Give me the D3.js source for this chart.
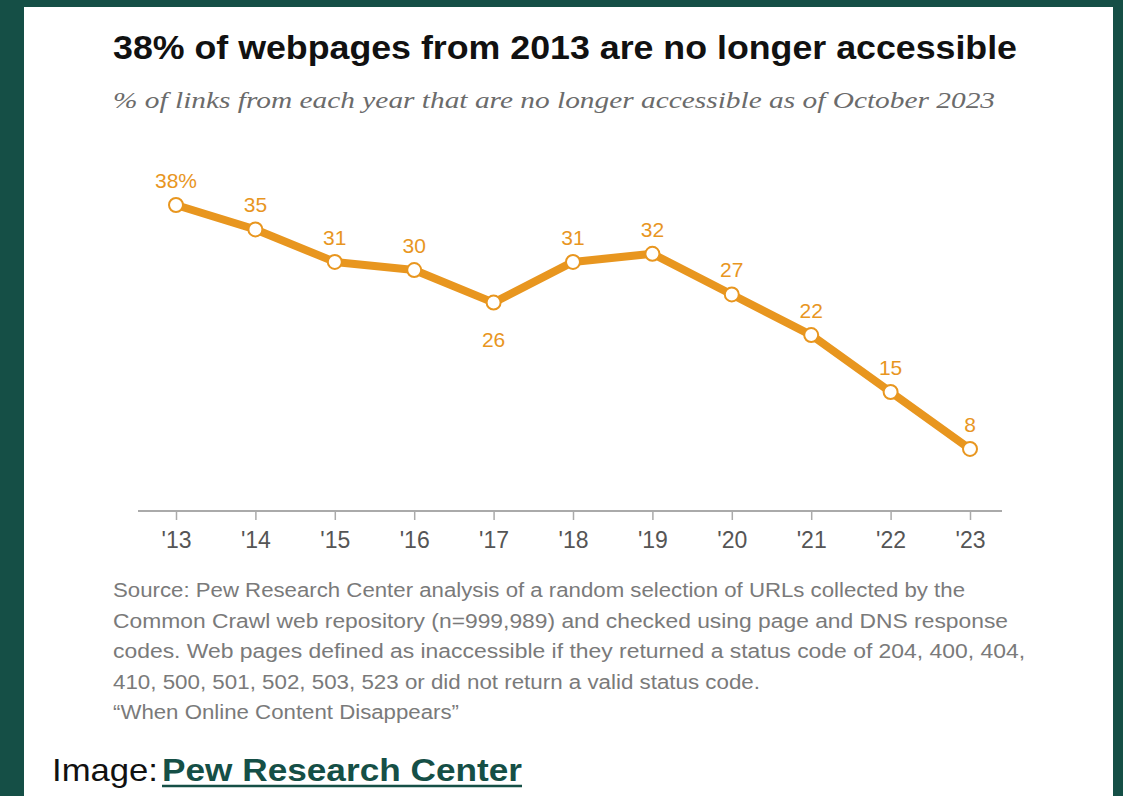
<!DOCTYPE html>
<html>
<head>
<meta charset="utf-8">
<title>Webpages no longer accessible</title>
<style>
  body { margin: 0; background: #154f46; }
  svg { display: block; }
  .title { font-family: "Liberation Sans Narrow", "Liberation Sans", Arial, sans-serif; font-weight: bold; fill: #111; }
  .sub { font-family: "Liberation Serif", "DejaVu Serif", serif; font-style: italic; fill: #6b6b6b; }
  .lab { font-family: "Liberation Sans", Arial, sans-serif; fill: #e8961f; }
  .tick text { font-family: "Liberation Sans Narrow", "Liberation Sans", Arial, sans-serif; fill: #555; }
  .note { font-family: "Liberation Sans Narrow", "Liberation Sans", Arial, sans-serif; fill: #7a7a7a; }
  .credit { font-family: "Liberation Sans", Arial, sans-serif; }
</style>
</head>
<body>
<script src="https://cdnjs.cloudflare.com/ajax/libs/d3/7.8.5/d3.min.js"></script>
<script>
// data
var years = ["'13", "'14", "'15", "'16", "'17", "'18", "'19", "'20", "'21", "'22", "'23"];
var values = [38, 35, 31, 30, 26, 31, 32, 27, 22, 15, 8];
var labels = ["38%", "35", "31", "30", "26", "31", "32", "27", "22", "15", "8"];
var below = [false, false, false, false, true, false, false, false, false, false, false];

var notes = [
  "Source: Pew Research Center analysis of a random selection of URLs collected by the",
  "Common Crawl web repository (n=999,989) and checked using page and DNS response",
  "codes. Web pages defined as inaccessible if they returned a status code of 204, 400, 404,",
  "410, 500, 501, 502, 503, 523 or did not return a valid status code.",
  "\u201CWhen Online Content Disappears\u201D"
];
var noteWidths = [852, 895, 912, 647, 346];

var W = 1123, H = 796;
var orange = "#e8961f";

var svg = d3.select("body").append("svg")
  .attr("width", W)
  .attr("height", H);

// white panel
svg.append("rect")
  .attr("x", 24).attr("y", 7)
  .attr("width", 1089).attr("height", H - 7)
  .attr("fill", "#fff");

// title + subtitle
svg.append("text").attr("class", "title")
  .attr("x", 113).attr("y", 59)
  .attr("font-size", 34)
  .attr("textLength", 904).attr("lengthAdjust", "spacingAndGlyphs")
  .text("38% of webpages from 2013 are no longer accessible");

svg.append("text").attr("class", "sub")
  .attr("x", 113).attr("y", 108)
  .attr("font-size", 24)
  .attr("textLength", 882).attr("lengthAdjust", "spacingAndGlyphs")
  .text("% of links from each year that are no longer accessible as of October 2023");

// scales
var x = d3.scalePoint()
  .domain(years)
  .range([176, 970]);

var y = d3.scaleLinear()
  .domain([0, 38])
  .range([514, 205]);

// axis
var xAxis = d3.axisBottom(x).tickSize(9).tickPadding(8);
var gx = svg.append("g")
  .attr("transform", "translate(0,511)")
  .call(xAxis);
gx.select(".domain").remove();
gx.selectAll(".tick line").attr("stroke", "#aaa").attr("stroke-width", 1.5);
gx.selectAll(".tick text").attr("font-size", 23).attr("dy", "0.85em");
gx.append("line")
  .attr("x1", 138).attr("x2", 1002)
  .attr("y1", 0).attr("y2", 0)
  .attr("stroke", "#aaa").attr("stroke-width", 2);

// line
var line = d3.line()
  .x(function(d, i){ return x(years[i]); })
  .y(function(d){ return y(d); });

svg.append("path")
  .datum(values)
  .attr("d", line)
  .attr("fill", "none")
  .attr("stroke", orange)
  .attr("stroke-width", 8)
  .attr("stroke-linejoin", "round");

svg.selectAll("circle.pt")
  .data(values)
  .enter().append("circle")
  .attr("class", "pt")
  .attr("cx", function(d, i){ return x(years[i]); })
  .attr("cy", function(d){ return y(d); })
  .attr("r", 7)
  .attr("fill", "#fff")
  .attr("stroke", orange)
  .attr("stroke-width", 2);

svg.selectAll("text.lab")
  .data(values)
  .enter().append("text")
  .attr("class", "lab")
  .attr("x", function(d, i){ return x(years[i]); })
  .attr("y", function(d, i){ return below[i] ? y(d) + 44 : y(d) - 17; })
  .attr("text-anchor", "middle")
  .attr("font-size", 21)
  .text(function(d, i){ return labels[i]; });

// notes
svg.selectAll("text.note")
  .data(notes)
  .enter().append("text")
  .attr("class", "note")
  .attr("x", 113)
  .attr("y", function(d, i){ return 597 + i * 30.5; })
  .attr("font-size", 20)
  .attr("textLength", function(d, i){ return noteWidths[i]; })
  .attr("lengthAdjust", "spacingAndGlyphs")
  .text(function(d){ return d; });

// credit
var credit = svg.append("text").attr("class", "credit")
  .attr("x", 52).attr("y", 781)
  .attr("font-size", 32);
credit.append("tspan")
  .attr("fill", "#111")
  .attr("textLength", 106).attr("lengthAdjust", "spacingAndGlyphs")
  .text("Image:");
credit.append("tspan")
  .attr("x", 162)
  .attr("fill", "#154f46")
  .attr("font-weight", "bold")
  .attr("textLength", 360).attr("lengthAdjust", "spacingAndGlyphs")
  .text("Pew Research Center");
svg.append("line")
  .attr("x1", 162).attr("x2", 522)
  .attr("y1", 786).attr("y2", 786)
  .attr("stroke", "#154f46").attr("stroke-width", 2.5);
</script>
</body>
</html>
